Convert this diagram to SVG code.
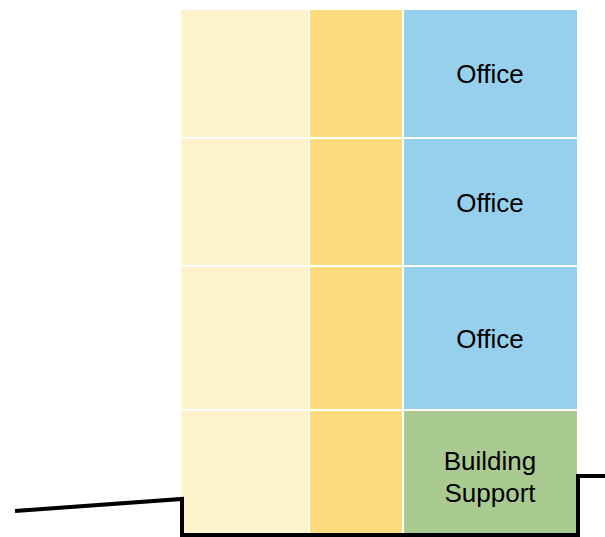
<svg xmlns="http://www.w3.org/2000/svg" width="605" height="537" viewBox="0 0 605 537">
<style>
.c{stroke:#fff;stroke-width:2}
.ly{fill:#FEF3CB}
.dy{fill:#FCDC7C}
.bl{fill:#96D0EC}
.gr{fill:#A9CB92}
text{font-family:"Liberation Sans",Arial,sans-serif;font-size:26px;fill:#000;text-anchor:middle}
</style>
<rect width="605" height="537" fill="#fff"/>
<g id="row1">
<rect class="c ly" x="180" y="9" width="129" height="129"/>
<rect class="c dy" x="309" y="9" width="94" height="129"/>
<rect class="c bl" x="403" y="9" width="175" height="129"/>
<text x="490" y="83">Office</text>
</g>
<g id="row2">
<rect class="c ly" x="180" y="138" width="129" height="128"/>
<rect class="c dy" x="309" y="138" width="94" height="128"/>
<rect class="c bl" x="403" y="138" width="175" height="128"/>
<text x="490" y="212">Office</text>
</g>
<g id="row3">
<rect class="c ly" x="180" y="266" width="129" height="144"/>
<rect class="c dy" x="309" y="266" width="94" height="144"/>
<rect class="c bl" x="403" y="266" width="175" height="144"/>
<text x="490" y="348">Office</text>
</g>
<g id="row4">
<rect class="c ly" x="180" y="410" width="129" height="126"/>
<rect class="c dy" x="309" y="410" width="94" height="126"/>
<rect class="c gr" x="403" y="410" width="175" height="126"/>
<text x="490" y="470">Building</text>
<text x="490" y="502">Support</text>
</g>
<g id="connectors">
<path d="M15,511 L182,499 L182,535 L578,535 L578,476 L605,476" fill="none" stroke="#000" stroke-width="4"/>
</g>
</svg>
